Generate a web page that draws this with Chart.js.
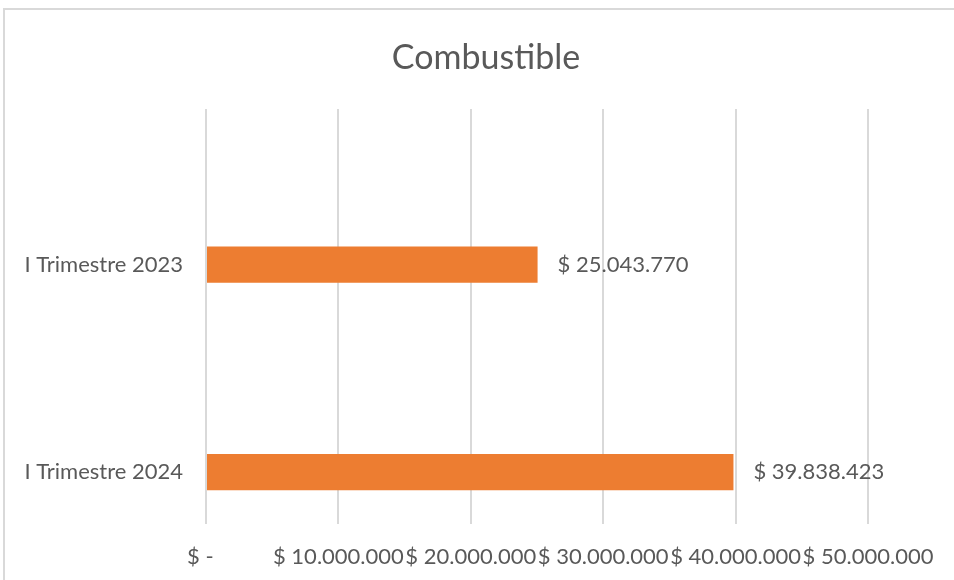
<!DOCTYPE html>
<html>
<head>
<meta charset="utf-8">
<script src="https://cdn.jsdelivr.net/npm/chart.js@4.4.1/dist/chart.umd.min.js"></script>
<style>
  body { margin: 0; background: #fff; overflow: hidden; }
  #marco { position: absolute; left: 3px; top: 8px; right: -60px; bottom: -60px; border: 2px solid #d9d9d9; }
  #lienzo { position: absolute; left: 0; top: 0; }
</style>
</head>
<body>
<div id="marco"></div>
<canvas id="lienzo" width="954" height="580"></canvas>
<script>
var periodos = ['I Trimestre 2023', 'I Trimestre 2024'];
var combustible = [25043770, 39838423];
var serieVacia = [null, null];
var ticksX = [0, 10000000, 20000000, 30000000, 40000000, 50000000];

var fuente = 'Lato, "Liberation Sans", sans-serif';
var gris = '#595959';

function puntos(v) {
    return Math.round(v).toString().replace(/\B(?=(\d{3})+(?!\d))/g, '.');
}

var etiquetas = {
    id: 'etiquetas',
    afterDatasetsDraw: function (chart) {
        var ctx = chart.ctx;
        var meta = chart.getDatasetMeta(1);
        ctx.save();
        ctx.font = '22px ' + fuente;
        ctx.fillStyle = gris;
        ctx.textAlign = 'left';
        ctx.textBaseline = 'middle';
        meta.data.forEach(function (bar, i) {
            ctx.fillText('$ ' + puntos(combustible[i]), bar.x + 20, bar.y);
        });
        ctx.restore();
    }
};

var ctx = document.getElementById('lienzo');

var grafico = new Chart(ctx, {
    type: 'bar',
    data: {
        labels: periodos,
        datasets: [{
            label: '',
            data: serieVacia,
            backgroundColor: '#4472C4'
        }, {
            label: 'Combustible',
            data: combustible,
            backgroundColor: '#ED7D31'
        }]
    },
    options: {
        indexAxis: 'y',
        responsive: false,
        animation: false,
        categoryPercentage: 1.0,
        barPercentage: 0.347,
        layout: { padding: { left: 18, right: 0, top: 0, bottom: 0 } },
        plugins: {
            legend: { display: false },
            tooltip: { enabled: false },
            title: {
                display: true,
                text: 'Combustible',
                color: gris,
                font: { family: fuente, size: 34, weight: 'normal' },
                padding: { top: 38, bottom: 30.2 }
            }
        },
        scales: {
            x: {
                type: 'linear',
                min: 0,
                max: 50000000,
                afterBuildTicks: function (scale) {
                    scale.ticks = ticksX.map(function (v) { return { value: v }; });
                },
                afterFit: function (scale) {
                    scale.height = 56;
                    scale.paddingLeft = 0;
                    scale.paddingRight = 86;
                },
                grid: { color: '#d9d9d9', lineWidth: 2, drawTicks: false },
                border: { display: false },
                ticks: {
                    color: gris,
                    font: { family: fuente, size: 22 },
                    padding: 20,
                    maxRotation: 0,
                    autoSkip: false,
                    callback: function (v) {
                        return v === 0 ? '$ -  ' : '$ ' + puntos(v);
                    }
                }
            },
            y: {
                afterFit: function (scale) {
                    scale.width = 188;
                    scale.paddingTop = 0;
                    scale.paddingBottom = 0;
                },
                grid: { display: false },
                border: { display: false },
                ticks: {
                    color: gris,
                    font: { family: fuente, size: 22 },
                    padding: 15,
                    labelOffset: 52
                }
            }
        }
    },
    plugins: [etiquetas]
});
</script>
</body>
</html>
